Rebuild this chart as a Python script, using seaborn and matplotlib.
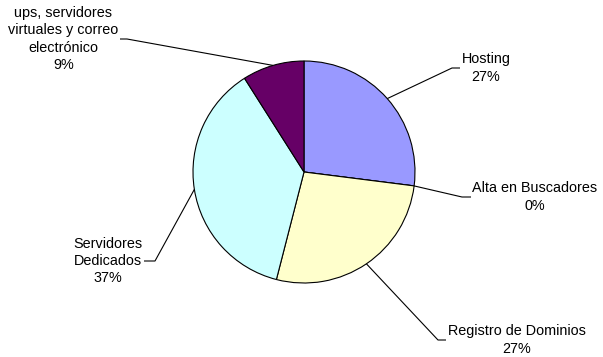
import numpy as np
import matplotlib
matplotlib.use("Agg")
import matplotlib.pyplot as plt
import seaborn as sns

# Share of services (percent), clockwise from 12 o'clock
categories = [
    "Hosting",
    "Alta en Buscadores",
    "Registro de Dominios",
    "Servidores\nDedicados",
    "ups, servidores\nvirtuales y correo\nelectrónico",
]
values = [27, 0, 27, 37, 9]
colors = ["#9999FF", "#FFFFFF", "#FFFFCC", "#CCFFFF", "#660066"]

sns.set_theme(style="white")
plt.rcParams["font.family"] = ["Liberation Sans", "DejaVu Sans"]

W, H = 603, 357
fig = plt.figure(figsize=(W / 100, H / 100), dpi=100)
ax = fig.add_axes([0, 0, 1, 1])

# pie drawn in pixel units (y measured upward)
cx, cy, r = 304, H - 172, 111
wedges, _ = ax.pie(
    values,
    colors=colors,
    startangle=90,
    counterclock=False,
    center=(cx, cy),
    radius=r,
    frame=True,
    wedgeprops=dict(edgecolor="black", linewidth=0.8),
)
ax.set_xlim(0, W)
ax.set_ylim(0, H)
ax.set_aspect("equal")
ax.axis("off")

# label layout: elbow of the leader line, end of the leader line, side of text
layout = [
    ((452, 68), (460, 68), "left"),
    ((462, 197), (471, 197), "left"),
    ((438, 340), (446, 340), "left"),
    ((155, 261), (144, 261), "right"),
    ((127, 39), (120, 39), "right"),
]

for w, cat, v, (elbow, end, side) in zip(wedges, categories, values, layout):
    mid = np.deg2rad((w.theta1 + w.theta2) / 2)
    sx, sy = cx + r * np.cos(mid), cy + r * np.sin(mid)
    ex, ey = elbow[0], H - elbow[1]
    tx, ty = end[0], H - end[1]
    ax.plot([sx, ex, tx], [sy, ey, ty], color="black", lw=0.8, solid_capstyle="butt")
    gap = 1.5 if side == "left" else -1.5
    ax.text(tx + gap, ty, f"{cat}\n{v:.0f}%", ha=side, va="center",
            multialignment="center", fontsize=10.4, linespacing=1.3, color="black")

fig.savefig("out.png", dpi=100, facecolor="white")
